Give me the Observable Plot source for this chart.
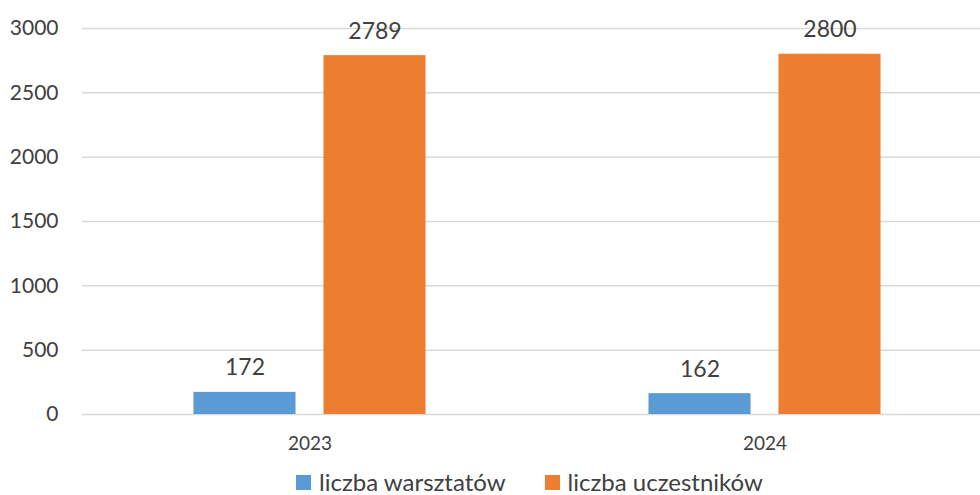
<!DOCTYPE html>
<html><head><meta charset="utf-8">
<script src="https://cdn.jsdelivr.net/npm/d3@7"></script>
<script src="https://cdn.jsdelivr.net/npm/@observablehq/plot@0.6"></script>
<style>
html,body{margin:0;background:#fff;font-family:Lato,"Open Sans",sans-serif;color:#404040;overflow:hidden;}
#chart{width:980px;height:462px;overflow:hidden;}
#chart svg{max-width:none !important;}
#legend{display:flex;justify-content:center;align-items:center;height:24px;line-height:24px;margin-top:8px;padding-left:79px;font-size:24px;color:#404040;}
.item{display:flex;align-items:center;}
.sw{width:15px;height:15px;margin-right:8px;}
</style></head><body>
<div id="chart"></div>
<div id="legend"></div>
<script>
const years = ["2023", "2024"];
const seriesNames = ["liczba warsztatów", "liczba uczestników"];
const warsztaty = [172, 162];
const uczestnicy = [2789, 2800];
const yTicks = [0, 500, 1000, 1500, 2000, 2500, 3000];
const colors = ["#5B9BD5", "#ED7D31"];

const data = [];
years.forEach((y, i) => {
  data.push({year: y, series: seriesNames[0], value: warsztaty[i]});
  data.push({year: y, series: seriesNames[1], value: uczestnicy[i]});
});

const chart = Plot.plot({
  width: 992,
  height: 462,
  marginLeft: 82,
  marginRight: 0,
  marginTop: 28,
  marginBottom: 48,
  style: {fontFamily: "Lato, 'Open Sans', sans-serif", color: "#404040", background: "#fff", maxWidth: "none"},
  fx: {domain: years, padding: 0, round: false, label: null},
  x: {domain: seriesNames, paddingInner: 0.215, paddingOuter: 0.8575, round: false, axis: null},
  y: {domain: [0, 3000], ticks: yTicks, label: null},
  color: {domain: seriesNames, range: colors},
  marks: [
    Plot.gridY(yTicks, {stroke: "#d9d9d9", strokeOpacity: 1, strokeWidth: 1.5}),
    Plot.axisY(yTicks, {tickSize: 0, tickPadding: 24, fontSize: 21, fill: "#404040", label: null, tickFormat: d => String(d)}),
    Plot.axisFx({anchor: "bottom", tickSize: 0, tickPadding: 22, fontSize: 19, fill: "#404040", label: null}),
    Plot.barY(data, {fx: "year", x: "series", y: "value", fill: "series"}),
    Plot.text(data, {fx: "year", x: "series", y: "value", text: d => String(d.value), lineAnchor: "bottom", dy: -17, fontSize: 23, fill: "#404040"})
  ]
});
chart.style.maxWidth = "none";
document.getElementById("chart").appendChild(chart);

const legend = document.getElementById("legend");
seriesNames.forEach((s, i) => {
  const it = document.createElement("div");
  it.className = "item";
  it.style.marginRight = i === 0 ? "39px" : "0";
  const sw = document.createElement("div");
  sw.className = "sw";
  sw.style.background = colors[i];
  const t = document.createElement("span");
  t.textContent = s;
  it.appendChild(sw); it.appendChild(t);
  legend.appendChild(it);
});
</script>
</body></html>
